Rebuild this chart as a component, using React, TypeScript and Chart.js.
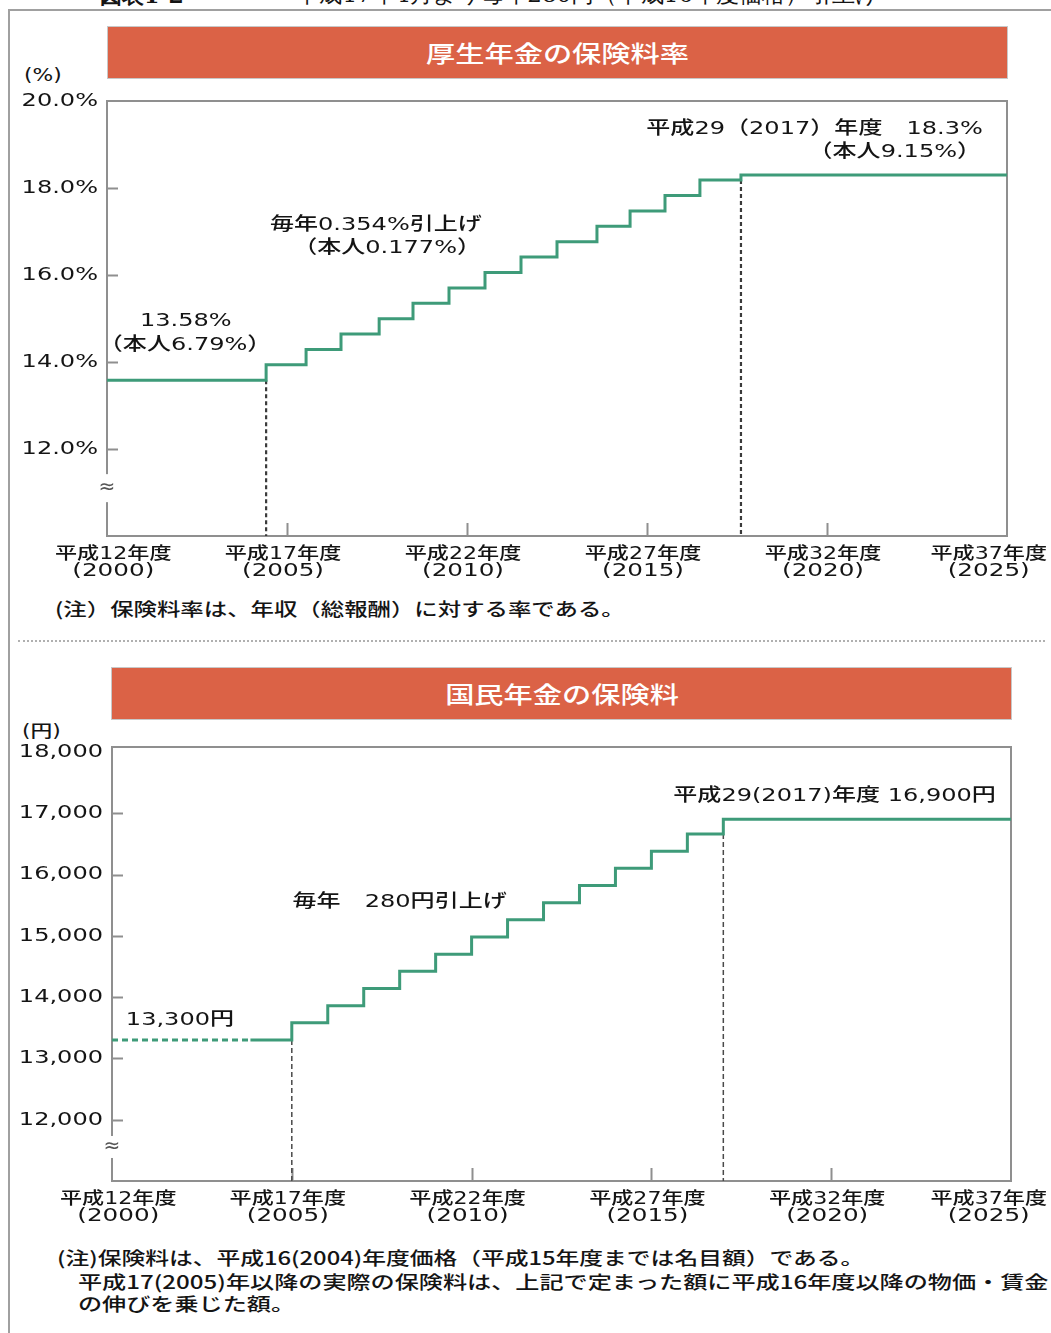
import React, { useEffect, useRef } from 'react';
import { Chart, registerables } from 'chart.js';

Chart.register(...registerables);

// ---------- shared axis data ----------
const xTickYears = [2000, 2005, 2010, 2015, 2020, 2025];
const xTickEra = ['平成12年度', '平成17年度', '平成22年度', '平成27年度', '平成32年度', '平成37年度'];
const xTickWestern = ['(2000)', '(2005)', '(2010)', '(2015)', '(2020)', '(2025)'];

// ---------- 厚生年金の保険料率 ----------
const rateStepYears = [2000, 2004.42, 2005.53, 2006.5, 2007.56, 2008.5, 2009.5, 2010.5, 2011.5, 2012.5, 2013.61, 2014.53, 2015.5, 2016.47, 2017.61, 2025];
const rateValues = [13.58, 13.934, 14.288, 14.642, 14.996, 15.35, 15.704, 16.058, 16.412, 16.766, 17.12, 17.474, 17.828, 18.182, 18.3, 18.3];
const rateTicks = [12, 14, 16, 18, 20];
const rateTickLabels = ['12.0%', '14.0%', '16.0%', '18.0%', '20.0%'];
const rateMarkerYears = [2004.42, 2017.61];
const rateMarkerTops = [13.58, 18.182];

// ---------- 国民年金の保険料 ----------
const premiumStepYears = [2000, 2003.85, 2005, 2006, 2007, 2008, 2009, 2010, 2011, 2012, 2013, 2014, 2015, 2016, 2017, 2025];
const premiumValues = [13300, 13300, 13580, 13860, 14140, 14420, 14700, 14980, 15260, 15540, 15820, 16100, 16380, 16660, 16900, 16900];
const premiumTicks = [12000, 13000, 14000, 15000, 16000, 17000, 18000];
const premiumTickLabels = ['12,000', '13,000', '14,000', '15,000', '16,000', '17,000', '18,000'];
const premiumMarkerYears = [2005, 2017];
const premiumMarkerTops = [13300, 16660];

const GREEN = '#3e9b79';
const AXIS = '#8f8f8f';
const TEXT = '#141414';
const FONT = '"DejaVu Sans", "Noto Sans CJK JP", sans-serif';
const JFONT = '"Noto Sans CJK JP", sans-serif';
const WEIGHT = 500;

type Align = 'left' | 'center' | 'right';
type Annot = { text: string; x: number; y: number; align: Align };

type Panel = {
  stepYears: number[];
  stepValues: number[];
  dashedSegments: number;
  markerYears: number[];
  markerTops: number[];
  markerDash: number[];
  markerWidth: number;
  markerColor: string;
  yMin: number;
  yMax: number;
  yTicks: number[];
  yTickLabels: string[];
  breakValue: number;
  breakHalf: number;
  yAxisWidth: number;
  padRight: number;
  padTop: number;
  xAxisHeight: number;
  annotations: Annot[];
};

const panel1: Panel = {
  stepYears: rateStepYears,
  stepValues: rateValues,
  dashedSegments: 0,
  markerYears: rateMarkerYears,
  markerTops: rateMarkerTops,
  markerDash: [4, 3],
  markerWidth: 2.2,
  markerColor: '#3a3a3a',
  yMin: 10,
  yMax: 20,
  yTicks: rateTicks,
  yTickLabels: rateTickLabels,
  breakValue: 11.1,
  breakHalf: 14,
  yAxisWidth: 107,
  padRight: 44,
  padTop: 16,
  xAxisHeight: 59,
  annotations: [
    { text: '13.58%', x: 2002.19, y: 14.94, align: 'center' },
    { text: '（本人6.79%）', x: 2002.17, y: 14.39, align: 'center' },
    { text: '毎年0.354%引上げ', x: 2007.47, y: 17.15, align: 'center' },
    { text: '（本人0.177%）', x: 2007.78, y: 16.62, align: 'center' },
    { text: '平成29（2017）年度　18.3%', x: 2024.33, y: 19.36, align: 'right' },
    { text: '（本人9.15%）', x: 2024.28, y: 18.83, align: 'right' },
  ],
};

const panel2: Panel = {
  stepYears: premiumStepYears,
  stepValues: premiumValues,
  dashedSegments: 1,
  markerYears: premiumMarkerYears,
  markerTops: premiumMarkerTops,
  markerDash: [5, 3],
  markerWidth: 1.5,
  markerColor: '#4a4a4a',
  yMin: 11000,
  yMax: 18080,
  yTicks: premiumTicks,
  yTickLabels: premiumTickLabels,
  breakValue: 11555,
  breakHalf: 11,
  yAxisWidth: 112,
  padRight: 40,
  padTop: 17,
  xAxisHeight: 59,
  annotations: [
    { text: '13,300円', x: 2001.89, y: 13626, align: 'center' },
    { text: '毎年　280円引上げ', x: 2008.0, y: 15550, align: 'center' },
    { text: '平成29(2017)年度 16,900円', x: 2024.58, y: 17272, align: 'right' },
  ],
};

function textWidth(ctx: CanvasRenderingContext2D, text: string, size: number, stretch: number, family = FONT) {
  ctx.save();
  ctx.font = `${WEIGHT} ${size}px ${family}`;
  const w = ctx.measureText(text).width * stretch;
  ctx.restore();
  return w;
}

function drawText(
  ctx: CanvasRenderingContext2D,
  text: string,
  x: number,
  y: number,
  align: Align,
  size: number,
  stretch: number,
  family = FONT,
  color = TEXT
) {
  ctx.save();
  ctx.font = `${WEIGHT} ${size}px ${family}`;
  ctx.fillStyle = color;
  ctx.textBaseline = 'middle';
  ctx.textAlign = 'left';
  const w = ctx.measureText(text).width * stretch;
  const left = align === 'left' ? x : align === 'center' ? x - w / 2 : x - w;
  ctx.translate(left, y);
  ctx.scale(stretch, 1);
  ctx.fillText(text, 0, 0);
  ctx.restore();
}

function buildPanel(canvas: HTMLCanvasElement, p: Panel) {
  const datasets: any[] = [
    {
      data: p.stepYears.map((x, i) => ({ x, y: p.stepValues[i] })),
      stepped: 'before',
      borderColor: GREEN,
      borderWidth: 3,
      borderJoinStyle: 'miter',
      borderCapStyle: 'butt',
      pointRadius: 0,
      fill: false,
      order: 0,
      segment: {
        borderDash: (ctx: any) => (ctx.p0DataIndex < p.dashedSegments ? [6, 4] : undefined),
      },
    },
    ...p.markerYears.map((x, i) => ({
      data: [
        { x, y: p.markerTops[i] },
        { x, y: p.yMin },
      ],
      borderColor: p.markerColor,
      borderWidth: p.markerWidth,
      borderDash: p.markerDash,
      borderCapStyle: 'butt',
      pointRadius: 0,
      fill: false,
      order: 1,
    })),
  ];

  const decor = {
    id: 'decor',
    beforeDatasetsDraw(chart: any) {
      const ctx: CanvasRenderingContext2D = chart.ctx;
      const a = chart.chartArea;
      const xs = chart.scales.x;
      const ys = chart.scales.y;
      ctx.save();
      ctx.strokeStyle = AXIS;
      ctx.lineWidth = 2;
      ctx.strokeRect(a.left, a.top, a.right - a.left, a.bottom - a.top);
      // inward y tick marks
      ys.ticks.forEach((t: any, i: number) => {
        if (i === ys.ticks.length - 1) return;
        const py = Math.round(ys.getPixelForValue(t.value)) + 0.5;
        ctx.beginPath();
        ctx.moveTo(a.left, py);
        ctx.lineTo(a.left + 11, py);
        ctx.stroke();
      });
      // inward x tick marks
      xs.ticks.forEach((t: any, i: number) => {
        if (i === 0 || i === xs.ticks.length - 1) return;
        const px = Math.round(xs.getPixelForValue(t.value)) + 0.5;
        ctx.beginPath();
        ctx.moveTo(px, a.bottom);
        ctx.lineTo(px, a.bottom - 13);
        ctx.stroke();
      });
      // axis break gap
      const by = ys.getPixelForValue(p.breakValue);
      ctx.fillStyle = '#ffffff';
      ctx.fillRect(a.left - 3, by - p.breakHalf, 6, p.breakHalf * 2);
      ctx.restore();
    },
    afterDatasetsDraw(chart: any) {
      const ctx: CanvasRenderingContext2D = chart.ctx;
      const a = chart.chartArea;
      const xs = chart.scales.x;
      const ys = chart.scales.y;
      // break symbol
      const by = ys.getPixelForValue(p.breakValue);
      drawText(ctx, '≈', a.left, by, 'center', 20, 1, '"DejaVu Sans", sans-serif', '#555');
      // y tick labels
      ys.ticks.forEach((t: any) => {
        const i = p.yTicks.indexOf(t.value);
        if (i < 0) return;
        drawText(ctx, p.yTickLabels[i], a.left - 9, ys.getPixelForValue(t.value), 'right', 18.5, 1.3);
      });
      // x tick labels (kept inside the page)
      xs.ticks.forEach((t: any) => {
        const i = xTickYears.indexOf(t.value);
        if (i < 0) return;
        const w1 = textWidth(ctx, xTickEra[i], 17, 1.3);
        const w2 = textWidth(ctx, xTickWestern[i], 17, 1.45);
        const half = Math.max(w1, w2) / 2;
        let cx = xs.getPixelForValue(t.value) - 4;
        cx = Math.max(cx, a.left - 52 + half);
        cx = Math.min(cx, chart.width - 4 - half);
        drawText(ctx, xTickEra[i], cx, a.bottom + 19, 'center', 17, 1.3);
        drawText(ctx, xTickWestern[i], cx, a.bottom + 36, 'center', 17, 1.45);
      });
      // annotations
      p.annotations.forEach((an) => {
        drawText(ctx, an.text, xs.getPixelForValue(an.x), ys.getPixelForValue(an.y), an.align, 18.5, 1.3);
      });
    },
  };

  return new Chart(canvas, {
    type: 'line',
    data: { datasets },
    options: {
      responsive: false,
      animation: false,
      events: [],
      layout: { padding: { left: 0, right: p.padRight, top: p.padTop, bottom: 0 } },
      plugins: { legend: { display: false }, tooltip: { enabled: false } },
      scales: {
        x: {
          type: 'linear',
          min: 2000,
          max: 2025,
          grid: { display: false },
          border: { display: false },
          ticks: { display: false },
          afterBuildTicks: (scale: any) => {
            scale.ticks = xTickYears.map((v) => ({ value: v }));
          },
          afterFit: (scale: any) => {
            scale.height = p.xAxisHeight;
            scale.paddingLeft = 0;
            scale.paddingRight = 0;
          },
        },
        y: {
          type: 'linear',
          min: p.yMin,
          max: p.yMax,
          grid: { display: false },
          border: { display: false },
          ticks: { display: false },
          afterBuildTicks: (scale: any) => {
            scale.ticks = p.yTicks.map((v) => ({ value: v }));
          },
          afterFit: (scale: any) => {
            scale.width = p.yAxisWidth;
            scale.paddingTop = 0;
            scale.paddingBottom = 0;
          },
        },
      },
    } as any,
    plugins: [decor],
  });
}

type LineProps = {
  left: number;
  cy: number;
  size: number;
  sx: number;
  text: string;
  family?: string;
  color?: string;
  width?: number;
  center?: boolean;
  weight?: number;
};

function Line({ left, cy, size, sx, text, family = JFONT, color = TEXT, width, center = false, weight = WEIGHT }: LineProps) {
  return (
    <div
      style={{
        position: 'absolute',
        left,
        top: cy - size / 2,
        width,
        height: size,
        lineHeight: `${size}px`,
        fontSize: size,
        fontFamily: family,
        fontWeight: weight,
        color,
        whiteSpace: 'nowrap',
        textAlign: center ? 'center' : 'left',
      }}
    >
      <span style={{ display: 'inline-block', transform: `scaleX(${sx})`, transformOrigin: center ? 'center' : 'left' }}>{text}</span>
    </div>
  );
}

export default function App() {
  const ref1 = useRef<HTMLCanvasElement>(null);
  const ref2 = useRef<HTMLCanvasElement>(null);

  useEffect(() => {
    const c1 = buildPanel(ref1.current as HTMLCanvasElement, panel1);
    const c2 = buildPanel(ref2.current as HTMLCanvasElement, panel2);
    return () => {
      c1.destroy();
      c2.destroy();
    };
  }, []);

  return (
    <div style={{ position: 'absolute', left: 0, top: 0, width: 1051, height: 1333, background: '#fff', overflow: 'hidden' }}>
      {/* clipped page title */}
      <Line left={100} cy={-5} size={22} sx={1} text="図表1-2" family='"DejaVu Serif", serif' weight={700} />
      <Line left={250} cy={-5} size={22} sx={1.05} text="ー・平成17年4月より毎年280円（平成16年度価格）引上げ" family='"DejaVu Serif", serif' weight={400} />
      {/* page frame */}
      <div style={{ position: 'absolute', left: 8, top: 9, width: 1060, height: 1340, borderLeft: '2px solid #a0a0a0', borderTop: '2px solid #a0a0a0' }} />
      {/* separator */}
      <div style={{ position: 'absolute', left: 18, top: 640, width: 1027, borderTop: '2px dotted #b0b0b0' }} />

      {/* panel 1 */}
      <div style={{ position: 'absolute', left: 107, top: 26, width: 899, height: 51, background: '#db6246', border: '1px solid #c8c8c8' }} />
      <Line left={107} cy={52} size={23} sx={1.27} text="厚生年金の保険料率" color="#ffffff" width={901} center />
      <Line left={24} cy={75} size={17} sx={1.28} text="(%)" family={FONT} />
      <canvas ref={ref1} width={1051} height={510} style={{ position: 'absolute', left: 0, top: 85, width: 1051, height: 510 }} />
      <Line left={55} cy={608} size={18} sx={1.3} text="(注）保険料率は、年収（総報酬）に対する率である。" />

      {/* panel 2 */}
      <div style={{ position: 'absolute', left: 111, top: 667, width: 899, height: 51, background: '#db6246', border: '1px solid #c8c8c8' }} />
      <Line left={111} cy={693} size={23} sx={1.27} text="国民年金の保険料" color="#ffffff" width={901} center />
      <Line left={22} cy={731} size={17} sx={1.28} text="(円)" family={FONT} />
      <canvas ref={ref2} width={1051} height={510} style={{ position: 'absolute', left: 0, top: 730, width: 1051, height: 510 }} />
      <Line left={57} cy={1257} size={18} sx={1.32} text="(注)保険料は、平成16(2004)年度価格（平成15年度までは名目額）である。" />
      <Line left={78} cy={1281} size={18} sx={1.34} text="平成17(2005)年以降の実際の保険料は、上記で定まった額に平成16年度以降の物価・賃金" />
      <Line left={78} cy={1303} size={18} sx={1.34} text="の伸びを乗じた額。" />
    </div>
  );
}
